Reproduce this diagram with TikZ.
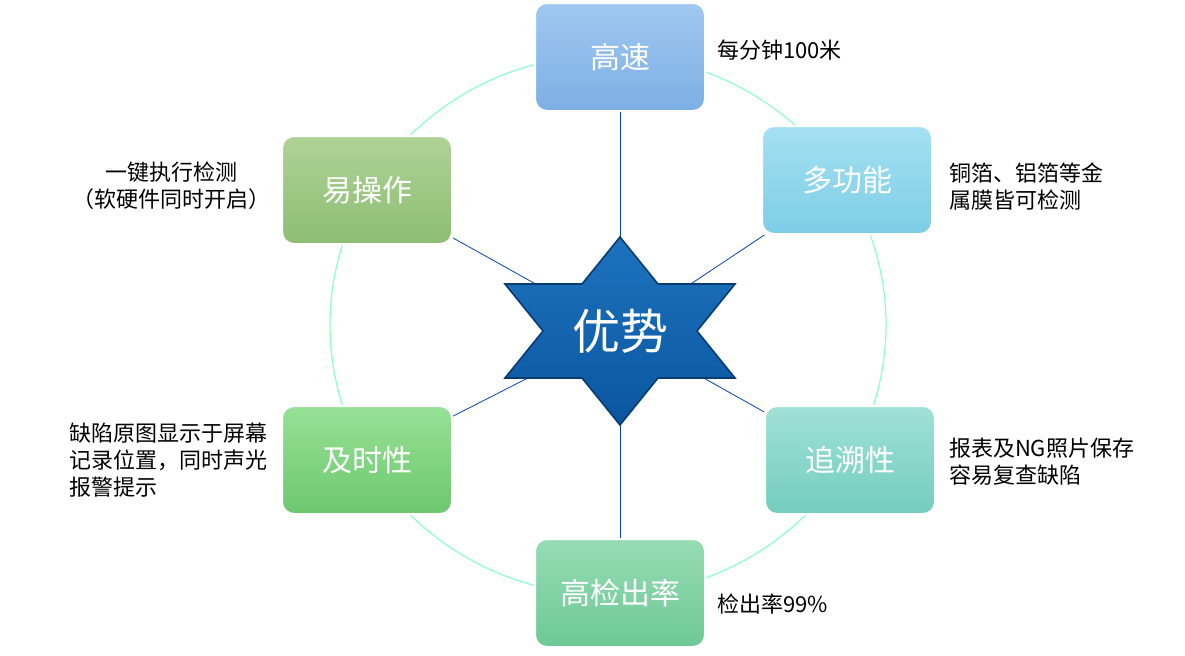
\documentclass[tikz,border=0pt]{standalone}
\usepackage{fontspec}
\newfontfamily\cjk{Noto Sans CJK SC}
\usetikzlibrary{arrows.meta}
\definecolor{fastTop}{RGB}{160,200,240}\definecolor{fastBot}{RGB}{125,175,228}
\definecolor{multiTop}{RGB}{165,225,242}\definecolor{multiBot}{RGB}{125,205,230}
\definecolor{traceTop}{RGB}{160,225,215}\definecolor{traceBot}{RGB}{115,205,190}
\definecolor{detectTop}{RGB}{150,220,180}\definecolor{detectBot}{RGB}{110,200,150}
\definecolor{timelyTop}{RGB}{150,225,150}\definecolor{timelyBot}{RGB}{110,200,110}
\definecolor{easyTop}{RGB}{175,210,150}\definecolor{easyBot}{RGB}{140,190,115}
\definecolor{starTop}{RGB}{30,115,190}\definecolor{starBot}{RGB}{10,85,160}
\tikzset{%
  % box and label styles
      feature/.style = {rectangle, rounded corners=6pt, draw=white, line width=1pt,
                        minimum width=85pt, minimum height=54pt,
                        text=white, font=\cjk\fontsize{15}{18}\selectfont},
         note/.style = {align=left, font=\cjk\fontsize{11}{13.5}\selectfont, text=black},
        spoke/.style = {draw=blue!60!cyan!70!black, line width=0.4pt},
}
\begin{document}
\begin{tikzpicture}[x=0.5pt, y=-0.5pt]
  \useasboundingbox (0,0) rectangle (1185,655);
  % ring
  \draw[green!50!cyan!45, line width=0.6pt] (608,325) ellipse [x radius=278, y radius=270];
  % feature boxes
  \node (fast)   [feature, top color=fastTop, bottom color=fastBot] at (620,57)  {高速};
  \node (multi)  [feature, top color=multiTop, bottom color=multiBot] at (847,180) {多功能};
  \node (trace)  [feature, top color=traceTop, bottom color=traceBot] at (850,460) {追溯性};
  \node (detect) [feature, top color=detectTop, bottom color=detectBot] at (620,593) {高检出率};
  \node (timely) [feature, top color=timelyTop, bottom color=timelyBot] at (367,460) {及时性};
  \node (easy)   [feature, top color=easyTop, bottom color=easyBot] at (367,190) {易操作};
  % notes
  \node (nFast)   [note, anchor=west] at (710,50)  {每分钟100米};
  \node (nMulti)  [note, anchor=west] at (942,187) {铜箔、铝箔等金\\属膜皆可检测};
  \node (nTrace)  [note, anchor=west] at (942,462) {报表及NG照片保存\\容易复查缺陷};
  \node (nDetect) [note, anchor=west] at (710,604) {检出率99\%};
  \node (nTimely) [note, anchor=east] at (275,460) {缺陷原图显示于屏幕\\记录位置，同时声光\\报警提示};
  \node (nEasy)   [note, align=center, anchor=east] at (278,186) {一键执行检测\\（软硬件同时开启）};
  % spokes
  \coordinate (hub) at (620,331);
  \foreach \feat in {fast, multi, trace, detect, timely, easy}
    \draw[spoke] (hub) -- (\feat);
  % star
  \path[draw=starBot!70!black, line width=0.8pt, top color=starTop, bottom color=starBot]
    (620,237) -- (658,284) -- (735,284) -- (697,331) -- (735,378) -- (658,378)
    -- (620,425) -- (582,378) -- (505,378) -- (543,331) -- (505,284) -- (582,284) -- cycle;
  \node (adv) [text=white, font=\cjk\fontsize{24}{28}\selectfont] at (hub) {优势};
\end{tikzpicture}
\end{document}
